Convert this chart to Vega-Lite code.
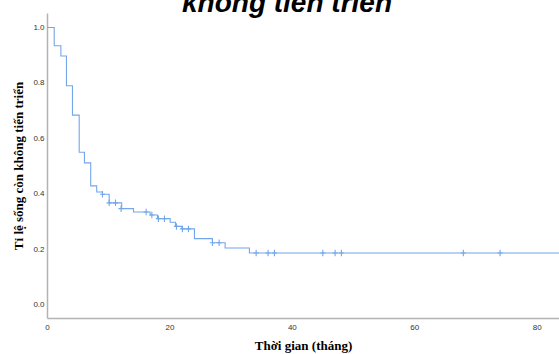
{
  "$schema": "https://vega.github.io/schema/vega-lite/v6.json",
  "width": 512,
  "height": 305,
  "autosize": "none",
  "padding": {"left": 47, "top": 13, "right": 0, "bottom": 36},
  "background": "white",
  "config": {"view": {"stroke": null}},
  "title": {
    "text": "không tiến triển",
    "font": "Liberation Sans",
    "fontSize": 28,
    "fontWeight": "bold",
    "fontStyle": "italic",
    "color": "#000000",
    "anchor": "middle",
    "baseline": "alphabetic",
    "dx": -16,
    "dy": 27,
    "offset": 0
  },
  "datasets": {
    "steps": [
      {"t": 0, "s": 1.0},
      {"t": 1.18, "s": 0.934},
      {"t": 2.27, "s": 0.897},
      {"t": 3.18, "s": 0.79},
      {"t": 4.16, "s": 0.684},
      {"t": 5.26, "s": 0.55},
      {"t": 6.12, "s": 0.512},
      {"t": 7.14, "s": 0.429},
      {"t": 8.12, "s": 0.407},
      {"t": 9.06, "s": 0.399},
      {"t": 10.16, "s": 0.368},
      {"t": 12.2, "s": 0.347},
      {"t": 14.13, "s": 0.335},
      {"t": 16.85, "s": 0.324},
      {"t": 18.05, "s": 0.311},
      {"t": 20.12, "s": 0.298},
      {"t": 20.99, "s": 0.283},
      {"t": 22.03, "s": 0.274},
      {"t": 24.09, "s": 0.239},
      {"t": 27.03, "s": 0.224},
      {"t": 29.1, "s": 0.205},
      {"t": 33.07, "s": 0.187},
      {"t": 84, "s": 0.187}
    ],
    "censored": [
      {"t": 9.06, "s": 0.399},
      {"t": 10.16, "s": 0.368},
      {"t": 11.19, "s": 0.368},
      {"t": 12.1, "s": 0.347},
      {"t": 16.2, "s": 0.335},
      {"t": 17.13, "s": 0.324},
      {"t": 18.21, "s": 0.311},
      {"t": 19.19, "s": 0.311},
      {"t": 21.15, "s": 0.283},
      {"t": 22.13, "s": 0.274},
      {"t": 23.11, "s": 0.274},
      {"t": 27.03, "s": 0.224},
      {"t": 28.12, "s": 0.224},
      {"t": 34.17, "s": 0.187},
      {"t": 36.12, "s": 0.187},
      {"t": 37.16, "s": 0.187},
      {"t": 45.06, "s": 0.187},
      {"t": 47.07, "s": 0.187},
      {"t": 48.1, "s": 0.187},
      {"t": 68.02, "s": 0.187},
      {"t": 74.02, "s": 0.187}
    ]
  },
  "encoding": {
    "x": {
      "field": "t",
      "type": "quantitative",
      "scale": {"domain": [0, 83.65], "nice": false, "zero": false},
      "axis": {
        "values": [0, 20, 40, 60, 80],
        "title": "Thời gian (tháng)",
        "grid": false,
        "ticks": false,
        "domainColor": "#b3b3b3",
        "domainWidth": 1.5,
        "labelFont": "Liberation Sans",
        "labelFontSize": 8,
        "labelColor": "#333333",
        "labelPadding": 5,
        "labelFlush": false,
        "titleFont": "Liberation Serif",
        "titleFontSize": 13,
        "titleFontWeight": "bold",
        "titleColor": "#000000",
        "titlePadding": 8
      }
    },
    "y": {
      "field": "s",
      "type": "quantitative",
      "scale": {"domain": [-0.047, 1.052], "nice": false, "zero": false},
      "axis": {
        "values": [0, 0.2, 0.4, 0.6, 0.8, 1.0],
        "format": ".1f",
        "title": "Tỉ lệ sống còn không tiến triển",
        "grid": false,
        "ticks": false,
        "domainColor": "#b3b3b3",
        "domainWidth": 1.5,
        "labelFont": "Liberation Sans",
        "labelFontSize": 8,
        "labelColor": "#333333",
        "labelPadding": 3,
        "labelFlush": false,
        "titleFont": "Liberation Serif",
        "titleFontSize": 13,
        "titleFontWeight": "bold",
        "titleColor": "#000000",
        "titlePadding": 7
      }
    }
  },
  "layer": [
    {
      "data": {"name": "steps"},
      "mark": {"type": "line", "interpolate": "step-after", "color": "#74a6ea", "strokeWidth": 1.1, "clip": true}
    },
    {
      "data": {"name": "censored"},
      "mark": {"type": "point", "shape": "M0,-1V1M-0.8,0H0.8", "filled": false, "color": "#74a6ea", "strokeWidth": 1.1, "size": 42, "opacity": 1, "clip": true}
    }
  ]
}
